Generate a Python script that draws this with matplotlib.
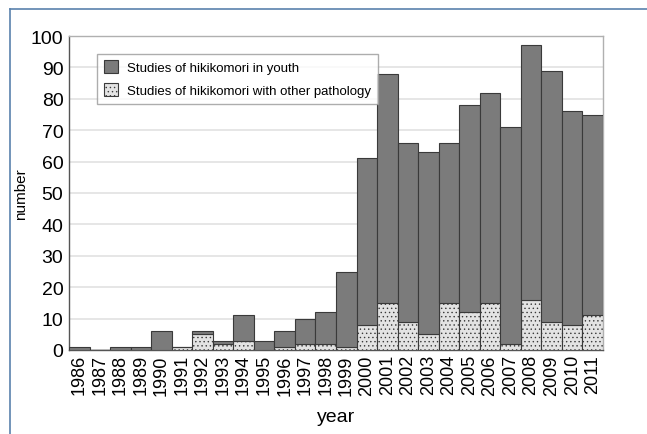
import numpy as np
import matplotlib.pyplot as plt
import matplotlib.patches as mpatches
from matplotlib.lines import Line2D

plt.rcParams['font.family'] = ['Liberation Sans', 'DejaVu Sans']

years = [str(y) for y in range(1986, 2012)]
total = [1, 0, 1, 1, 6, 1, 6, 3, 11, 3, 6, 10, 12, 25,
         61, 88, 66, 63, 66, 78, 82, 71, 97, 89, 76, 75]
other = [0, 0, 0, 0, 0, 1, 5, 2, 3, 0, 1, 2, 2, 1,
         8, 15, 9, 5, 15, 12, 15, 2, 16, 9, 8, 11]
youth = [t - o for t, o in zip(total, other)]

dark = '#7b7b7b'
light = '#e3e3e3'

fig = plt.figure(figsize=(6.47, 4.35), dpi=100)
ax = fig.add_axes([69 / 647, 1 - 351 / 435, (603 - 69) / 647, (351 - 37) / 435])

x = np.arange(len(years))
plt.rcParams['hatch.color'] = '#c4c4c4'
plt.rcParams['hatch.linewidth'] = 0.5
ax.bar(x, other, width=1.0, color=light, edgecolor='#3a3a3a', linewidth=0.8,
       hatch='....', zorder=3)
ax.bar(x, youth, bottom=other, width=1.0, color=dark, edgecolor='#3a3a3a',
       linewidth=0.8, zorder=3)

ax.set_xlim(-0.5, len(years) - 0.5)
ax.set_ylim(0, 100)
ax.set_yticks(range(0, 101, 10))
ax.set_yticklabels([str(v) for v in range(0, 101, 10)], fontsize=14)
ax.set_xticks(x)
ax.set_xticklabels(years, rotation=90, fontsize=13)
ax.tick_params(axis='x', length=0, pad=3)
ax.tick_params(axis='y', length=0, pad=4)
ax.yaxis.grid(True, color='#e2e2e2', linewidth=1.2, zorder=0)
for s in ax.spines.values():
    s.set_color('#b0b0b0')
    s.set_linewidth(1.0)
ax.spines['left'].set_color('#555555')
ax.spines['bottom'].set_color('#555555')

ax.set_ylabel('number', fontsize=11, labelpad=2)
ax.set_xlabel('year', fontsize=14)
ax.xaxis.set_label_coords(0.5, -0.185)

handles = [mpatches.Patch(facecolor=dark, edgecolor='#3a3a3a', linewidth=0.8),
           mpatches.Patch(facecolor=light, edgecolor='#3a3a3a', linewidth=0.8, hatch='....')]
leg = ax.legend(handles, ['Studies of hikikomori in youth',
                          'Studies of hikikomori with other pathology'],
                loc='upper left', bbox_to_anchor=(0.04, 0.965), fontsize=9.5,
                frameon=True, fancybox=False, edgecolor='#999999',
                handlelength=1.1, handleheight=1.1, borderpad=0.5, labelspacing=0.7,
                handletextpad=0.7)
leg.get_frame().set_linewidth(1.0)

# blue frame lines around the figure
fig.add_artist(Line2D([10 / 647, 1], [1 - 10 / 435, 1 - 10 / 435], color='#5a82ad', linewidth=1.2))
fig.add_artist(Line2D([10 / 647, 10 / 647], [1 - 10 / 435, 0], color='#5a82ad', linewidth=1.2))

fig.savefig('out.png', dpi=100)
